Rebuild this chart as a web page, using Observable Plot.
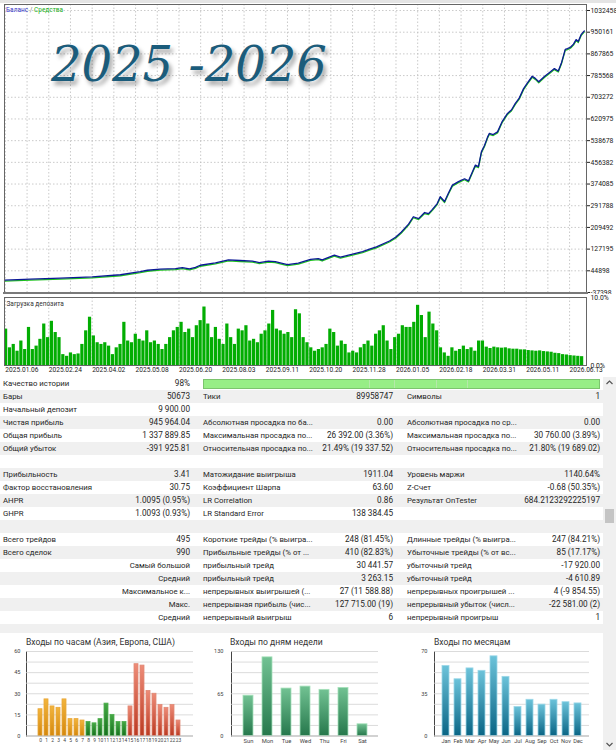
<!DOCTYPE html>
<html><head><meta charset="utf-8">
<script src="https://cdn.jsdelivr.net/npm/d3@7"></script>
<script src="https://cdn.jsdelivr.net/npm/@observablehq/plot@0.6"></script>
<style>
body{margin:0;width:616px;height:750px;overflow:hidden;position:relative;background:#fff;font-family:Roboto,"Liberation Sans",sans-serif;color:#262626;}
.abs{position:absolute;}
.row{position:absolute;left:0;width:603px;height:13px;line-height:13px;font-size:7.8px;white-space:nowrap;}
.row span{position:absolute;top:0;}
.val{font-size:8.2px;}
.ptitle{position:absolute;font-size:8.6px;color:#333;white-space:nowrap;}
</style></head><body>
<svg width="0" height="0" style="position:absolute">
 <defs>
  <linearGradient id="gOrange" x1="0" y1="0" x2="0" y2="1"><stop offset="0" stop-color="#f2b43c"/><stop offset="1" stop-color="#d4880e"/></linearGradient>
  <linearGradient id="gGreen" x1="0" y1="0" x2="0" y2="1"><stop offset="0" stop-color="#45a845"/><stop offset="1" stop-color="#17701f"/></linearGradient>
  <linearGradient id="gRed" x1="0" y1="0" x2="0" y2="1"><stop offset="0" stop-color="#ee8c78"/><stop offset="1" stop-color="#bb3a22"/></linearGradient>
  <linearGradient id="gDay" x1="0" y1="0" x2="0" y2="1"><stop offset="0" stop-color="#72c293"/><stop offset="1" stop-color="#26784c"/></linearGradient>
  <linearGradient id="gMonth" x1="0" y1="0" x2="0" y2="1"><stop offset="0" stop-color="#6cc3da"/><stop offset="1" stop-color="#0a6585"/></linearGradient>
 </defs>
</svg>
<div class="abs" style="left:0;top:0;width:616px;height:3px;background:#e4e4e4"></div>
<div id="top" class="abs" style="left:0;top:0"></div>
<div class="abs" style="left:3px;top:292px;width:585px;height:2px;background:#7a7a7a"></div>
<div id="dep" class="abs" style="left:0;top:294px"></div>
<div class="abs" style="left:6px;top:6px;font-size:6.5px;white-space:nowrap"><span style="color:#3434c8">Баланс</span><span style="color:#777"> / </span><span style="color:#22b022">Средства</span></div>
<div class="abs" style="left:51px;top:40px;font-family:'DejaVu Serif',serif;font-style:italic;font-size:48px;line-height:48px;color:#1b5c7b;text-shadow:3px 4px 4px rgba(0,0,0,0.35);white-space:nowrap">2025 -2026</div>
<div id="table" class="abs" style="left:0;top:0"></div>
<div id="p1" class="abs" style="left:0;top:633px"></div>
<div id="p2" class="abs" style="left:200px;top:633px"></div>
<div id="p3" class="abs" style="left:405px;top:633px"></div>
<div class="ptitle" style="left:26px;top:637px">Входы по часам (Азия, Европа, США)</div>
<div class="ptitle" style="left:230px;top:637px">Входы по дням недели</div>
<div class="ptitle" style="left:434px;top:637px">Входы по месяцам</div>
<div class="abs" style="left:603px;top:377px;width:13px;height:373px;background:#f0f0f0"></div>
<div class="abs" style="left:605px;top:509px;width:9px;height:14px;background:#c4c4c4"></div>
<svg class="abs" style="left:603px;top:377px" width="13" height="373">
 <path d="M3.5 7 L6.5 4 L9.5 7" fill="none" stroke="#555" stroke-width="1.2"/>
 <path d="M3.5 366 L6.5 369 L9.5 366" fill="none" stroke="#555" stroke-width="1.2"/>
</svg>
<script>
// ---------- data ----------
const dateLabels = ["2025.01.06","2025.02.24","2025.04.02","2025.05.08","2025.06.20","2025.08.03","2025.09.11","2025.10.20","2025.11.28","2026.01.05","2026.02.18","2026.03.31","2026.05.11","2026.06.13"];
const balanceTicks = [-37398,44898,127195,209492,291788,374085,456382,538678,620975,703272,785568,867865,950161,1032458];
// position along the date axis (in label intervals) and balance value
const balancePos = [-0.02,0.58,1.27,2.0,2.65,3.11,3.27,3.57,3.92,4.08,4.24,4.38,4.49,4.84,5.14,5.41,5.69,5.85,6.06,6.22,6.38,6.5,6.75,7.03,7.21,7.3,7.58,7.72,8.0,8.23,8.39,8.55,8.85,8.99,9.12,9.29,9.4,9.52,9.66,9.75,9.84,9.95,10.02,10.12,10.21,10.3,10.44,10.58,10.67,10.76,10.83,10.9,10.97,11.04,11.11,11.15,11.24,11.34,11.45,11.57,11.66,11.75,11.84,11.94,12.03,12.14,12.21,12.29,12.42,12.56,12.65,12.74,12.81,12.9,12.95,13.02,13.09,13.15,13.2,13.27,13.34];
const balanceValues = [9900,13000,17000,22000,30000,42000,47000,51000,53000,57000,52000,58000,66000,75000,86000,84000,82000,76000,82000,80000,73000,68000,74000,88000,91000,86000,104000,97000,108000,118000,127000,136000,158000,172000,191000,222000,250000,243000,266000,262000,278000,300000,326000,308000,340000,370000,383000,394000,386000,420000,446000,440000,497000,520000,552000,566000,562000,572000,612000,642000,655000,680000,700000,736000,758000,783000,775000,762000,782000,800000,812000,803000,832000,885000,888000,893000,905000,922000,915000,942000,955000];
const loadTicks = [0,10];
const loadValues = [5.35,2.6,3.1,2.1,3.6,2.35,5.6,2.35,2.85,3.85,6.1,4.1,6.5,4.85,4.1,1.6,1.35,1.85,1.6,1.7,3.1,5.1,7.1,4.35,3.35,3.1,3.35,2.85,1.6,2.6,3.1,6.35,3.6,3.35,4.6,3.85,3.6,5.1,3.35,3.6,3.1,2.35,3.1,4.1,5.1,5.6,6.35,4.85,5.35,4.1,5.85,6.6,8.6,6.1,4.1,5.6,3.85,3.1,6.1,4.1,3.1,5.35,5.1,5.85,3.6,3.85,3.35,4.6,5.1,6.1,8.1,5.35,5.1,4.6,4.85,4.1,8.2,7.6,4.1,3.35,2.6,2.1,2.35,2.6,3.1,5.35,4.85,2.85,3.6,3.1,1.85,2.1,1.85,2.6,3.1,3.6,2.85,4.6,5.1,5.85,3.6,2.35,4.1,4.6,5.85,5.6,5.6,6.35,8.85,7.35,4.1,7.85,6.1,5.1,2.6,1.85,1.35,2.6,2.1,2.35,2.85,2.35,2.6,2.1,3.6,3.6,2.7,2.5,2.7,2.6,2.55,2.6,2.45,2.4,2.4,2.3,2.3,2.2,2.15,2.1,2.15,2.05,2.0,1.95,1.8,1.75,1.6,1.55,1.45,1.4,1.35,1.3];
const hourLabels = ["0","1","2","3","4","5","6","7","8","9","10","11","12","13","14","15","16","17","18","19","20","21","22","23"];
const hourValues = [19,26,21,20,26,12,12,11,10,9,12,23,15,10,10,21,51,50,32,30,22,20,22,11];
const dayLabels = ["Sun","Mon","Tue","Wed","Thu","Fri","Sat"];
const dayValues = [62,121,73,76,71,74,18];
const monthLabels = ["Jan","Feb","Mar","Apr","May","Jun","Jul","Aug","Sep","Oct","Nov","Dec"];
const monthValues = [58,47,56,54,66,49,24,30,26,30,28,27];
const statRows = [
 ["Качество истории","98%","","","",""],
 ["Бары","50673","Тики","89958747","Символы","1"],
 ["Начальный депозит","9 900.00","","","",""],
 ["Чистая прибыль","945 964.04","Абсолютная просадка по ба...","0.00","Абсолютная просадка по ср...","0.00"],
 ["Общая прибыль","1 337 889.85","Максимальная просадка по...","26 392.00 (3.36%)","Максимальная просадка по...","30 760.00 (3.89%)"],
 ["Общий убыток","-391 925.81","Относительная просадка по...","21.49% (19 337.52)","Относительная просадка по...","21.80% (19 689.02)"],
 ["","","","","",""],
 ["Прибыльность","3.41","Матожидание выигрыша","1911.04","Уровень маржи","1140.64%"],
 ["Фактор восстановления","30.75","Коэффициент Шарпа","63.60","Z-Счет","-0.68 (50.35%)"],
 ["AHPR","1.0095 (0.95%)","LR Correlation","0.86","Результат OnTester","684.2123292225197"],
 ["GHPR","1.0093 (0.93%)","LR Standard Error","138 384.45","",""],
 ["","","","","",""],
 ["Всего трейдов","495","Короткие трейды (% выигра...","248 (81.45%)","Длинные трейды (% выигра...","247 (84.21%)"],
 ["Всего сделок","990","Прибыльные трейды (% от ...","410 (82.83%)","Убыточные трейды (% от вс...","85 (17.17%)"],
 ["","Самый большой","прибыльный трейд","30 441.57","убыточный трейд","-17 920.00"],
 ["","Средний","прибыльный трейд","3 263.15","убыточный трейд","-4 610.89"],
 ["","Максимальное к...","непрерывных выигрышей (...","27 (11 588.88)","непрерывных проигрышей ...","4 (-9 854.55)"],
 ["","Макс.","непрерывная прибыль (чис...","127 715.00 (19)","непрерывный убыток (числ...","-22 581.00 (2)"],
 ["","Средний","непрерывный выигрыш","6","непрерывный проигрыш","1"],
 ["","","","","",""]
];

// ---------- top: balance / equity ----------
const xDomain = [-0.02, 13.39];
const font = "Roboto, 'Liberation Sans', sans-serif";
const bal = balancePos.map((u, i) => ({u, v: balanceValues[i]}));
const gridHalf = d3.range(0, 13.01, 0.5);
const p1 = Plot.plot({
  width: 616, height: 294,
  marginLeft: 4, marginRight: 30, marginTop: 4, marginBottom: 2,
  style: {fontFamily: font, fontSize: "6.8px", color: "#222", background: "transparent"},
  x: {domain: xDomain, axis: null},
  y: {domain: [-37398, 1055213], axis: "right", ticks: balanceTicks, tickFormat: d => String(d), tickSize: 3, tickPadding: 1, label: null},
  marks: [
    Plot.ruleX(gridHalf, {stroke: "#bdbdbd", strokeDasharray: "1.5,2", strokeWidth: 0.8}),
    Plot.ruleY(balanceTicks, {stroke: "#bdbdbd", strokeDasharray: "1.5,2", strokeWidth: 0.8}),
    Plot.line(bal, {x: "u", y: "v", stroke: "#1ec21e", strokeWidth: 1.3, dy: 1}),
    Plot.line(bal, {x: "u", y: "v", stroke: "#0c1896", strokeWidth: 1.3}),
    Plot.frame({stroke: "#666"})
  ]
});
document.getElementById("top").appendChild(p1);

// ---------- deposit load ----------
const nLoad = loadValues.length;
const loadStep = (13.34 - xDomain[0]) / nLoad;
const p2 = Plot.plot({
  width: 616, height: 84,
  marginLeft: 4, marginRight: 30, marginTop: 3, marginBottom: 13,
  style: {fontFamily: font, fontSize: "6.8px", color: "#222", background: "transparent"},
  x: {domain: xDomain, axis: null},
  y: {domain: [0, 10], axis: "right", ticks: loadTicks, tickFormat: d => d.toFixed(1) + "%", tickSize: 0, tickPadding: 4, label: null},
  marks: [
    Plot.ruleX(d3.range(0, 14), {stroke: "#bdbdbd", strokeDasharray: "1.5,2", strokeWidth: 0.8}),
    Plot.rectY(loadValues, {
      x1: (d, i) => xDomain[0] + i * loadStep,
      x2: (d, i) => xDomain[0] + (i + 0.84) * loadStep,
      y1: 0, y2: d => d, fill: "#02ad02"
    }),
    Plot.text(dateLabels, {x: (d, i) => i, frameAnchor: "bottom", dy: 6.5, textAnchor: "start", fontSize: 6.6, fill: "#222"}),
    Plot.text(["Загрузка депозита"], {frameAnchor: "top-left", dx: 2, dy: 4, textAnchor: "start", fontSize: 6.5, fill: "#333"}),
    Plot.frame({stroke: "#666"})
  ]
});
document.getElementById("dep").appendChild(p2);

// ---------- statistics table ----------
const tbl = document.getElementById("table");
statRows.forEach((r, i) => {
  const row = document.createElement("div");
  row.className = "row";
  row.style.top = (377 + 13 * i) + "px";
  if (i === statRows.length - 1) row.style.height = "9px";
  row.style.background = i % 2 ? "#f0f0f0" : "#ffffff";
  const cells = [
    [r[0], "left", 3, false], [r[1], "right", 603 - 190, true],
    [r[2], "left", 203, false], [r[3], "right", 603 - 393, true],
    [r[4], "left", 407, false], [r[5], "right", 603 - 600, true]
  ];
  cells.forEach(([t, side, pos, isVal]) => {
    if (!t) return;
    const s = document.createElement("span");
    s.textContent = t;
    s.style[side] = pos + "px";
    if (isVal && /^[-\d]/.test(t)) s.className = "val";
    row.appendChild(s);
  });
  if (i === 0) {
    const bar = document.createElement("div");
    bar.style.cssText = "position:absolute;left:203px;top:1.5px;width:395px;height:8.5px;background:#97ee86;border:1px solid #7cc46e;";
    [165, 190, 232, 263].forEach(x => {
      const l = document.createElement("div");
      l.style.cssText = `position:absolute;left:${x}px;top:0;width:1px;height:8.5px;background:#b6e8aa`;
      bar.appendChild(l);
    });
    row.appendChild(bar);
  }
  tbl.appendChild(row);
});

// ---------- bottom bar panels ----------
function panel(el, {labels, values, groups, yMax, yTicks, width, marginLeft, marginRight, padY, fontX, padX}) {
  const data = labels.map((l, i) => ({l, v: values[i], i}));
  const grid = d3.range(0, yMax + 0.001, yMax / 8);
  const p = Plot.plot({
    width, height: 117, marginLeft, marginRight, marginTop: 18, marginBottom: 14.5,
    style: {fontFamily: font, fontSize: "5.6px", color: "#444", background: "transparent"},
    x: {domain: labels, padding: padX, tickSize: 0, tickPadding: 3, label: null, tickFormat: d => d},
    y: {domain: [0, yMax], ticks: yTicks, tickSize: 0, tickPadding: padY, label: null, line: true},
    marks: [
      Plot.ruleY(grid, {stroke: "#d2d2d2", strokeWidth: 0.8}),
      ...groups.map(g => Plot.barY(data, {filter: d => d.i >= g.from && d.i <= g.to, x: "l", y: "v", fill: g.fill, stroke: g.stroke, strokeWidth: 0.8})),
      Plot.ruleY([0], {stroke: "#aaa", strokeWidth: 0.8})
    ]
  });
  p.querySelectorAll("g[aria-label='x-axis tick label'] text, g[aria-label='x-axis'] text").forEach(t => t.style.fontSize = fontX);
  el.appendChild(p);
}
panel(document.getElementById("p1"), {
  labels: hourLabels, values: hourValues, yMax: 60, yTicks: [0, 15, 30, 45, 60],
  width: 200, marginLeft: 26, marginRight: 7, padY: 6, fontX: "4.9px", padX: 0.28,
  groups: [
    {from: 0, to: 7, fill: "url(#gOrange)", stroke: "#e9a73a"},
    {from: 8, to: 14, fill: "url(#gGreen)", stroke: "#4fae4f"},
    {from: 15, to: 23, fill: "url(#gRed)", stroke: "#e08a76"}
  ]
});
panel(document.getElementById("p2"), {
  labels: dayLabels, values: dayValues, yMax: 130, yTicks: [0, 65, 130],
  width: 190, marginLeft: 31, marginRight: 12, padY: 8, fontX: "5.8px", padX: 0.5,
  groups: [{from: 0, to: 6, fill: "url(#gDay)", stroke: "#a6e2bb"}]
});
panel(document.getElementById("p3"), {
  labels: monthLabels, values: monthValues, yMax: 70, yTicks: [0, 35, 70],
  width: 198, marginLeft: 29, marginRight: 14, padY: 7, fontX: "5.6px", padX: 0.45,
  groups: [{from: 0, to: 11, fill: "url(#gMonth)", stroke: "#9cd8e8"}]
});
</script>
</body></html>
